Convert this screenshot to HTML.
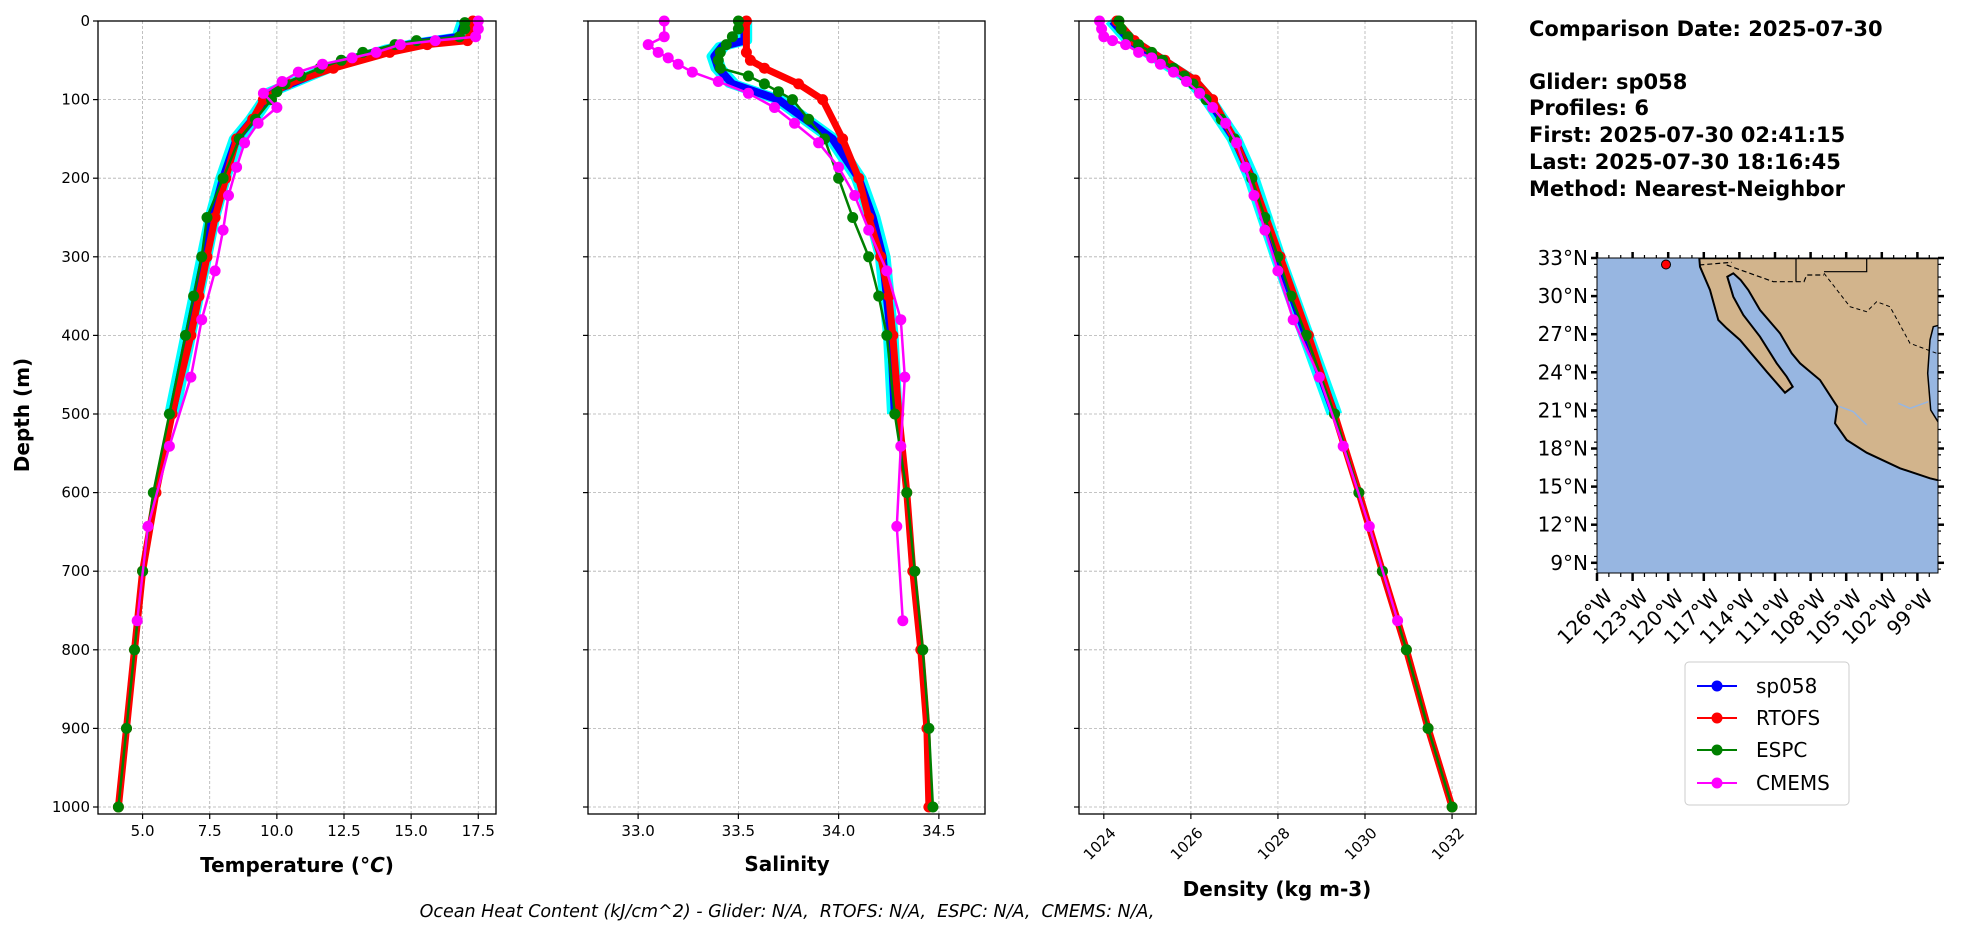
<!DOCTYPE html>
<html><head><meta charset="utf-8"><style>
html,body{margin:0;padding:0;background:#fff;}
svg{display:block;font-family:"DejaVu Sans","Liberation Sans",sans-serif;}
</style></head><body>
<svg id="s" width="1978" height="934" viewBox="0 0 1978 934" xmlns="http://www.w3.org/2000/svg"></svg>
<script>
const S=document.getElementById('s');let h='';
const Y0=21,Y1=807;
const yd=d=>Y0+(Y1-Y0)*d/1000;
const TOP=21,BOT=814;
const panels=[
 {L:98,R:496,v0:3.34,v1:18.16,ticks:[5,7.5,10,12.5,15,17.5],lab:t=>t.toFixed(1),name:'Temperature (<tspan font-style="italic">°C</tspan>)',nx:297,ny:872},
 {L:588,R:985,v0:32.75,v1:34.73,ticks:[33,33.5,34,34.5],lab:t=>t.toFixed(1),name:'Salinity',nx:787,ny:871},
 {L:1079,R:1476,v0:1023.43,v1:1032.55,ticks:[1024,1026,1028,1030,1032],lab:t=>String(t),name:'Density (kg m-3)',nx:1277,ny:896,rot:true}
];
function X(p,v){return p.L+(p.R-p.L)*(v-p.v0)/(p.v1-p.v0);}
function line(p,data,col,w,mk,r){
 let pts=data.map(a=>X(p,a[1]).toFixed(1)+','+yd(a[0]).toFixed(1)).join(' ');
 let s=`<polyline points="${pts}" fill="none" stroke="${col}" stroke-width="${w}" stroke-linejoin="round"/>`;
 if(mk)data.forEach(a=>{s+=`<circle cx="${X(p,a[1]).toFixed(1)}" cy="${yd(a[0]).toFixed(1)}" r="${r}" fill="${col}"/>`;});
 return s;
}
const D={
 T:{
  g:[[0,17],[20,16.8],[28,15.2],[35,14.2],[45,13.2],[60,11.9],[80,10.5],[90,9.8],[100,9.6],[125,9.1],[150,8.5],[200,8.0],[250,7.6],[300,7.3],[350,7.0],[400,6.7],[450,6.4],[500,6.1]],
  r:[[0,17.3],[25,17.1],[30,15.6],[40,14.2],[60,12.1],[80,10.4],[100,9.5],[125,9.1],[150,8.5],[200,8.1],[250,7.7],[300,7.4],[350,7.1],[400,6.8],[500,6.1],[600,5.5],[700,5.0],[800,4.7],[900,4.4],[1000,4.1]],
  e:[[2,17],[10,17],[20,16.8],[25,15.2],[30,14.4],[40,13.2],[50,12.4],[60,11.6],[70,10.9],[80,10.3],[90,10.0],[100,9.8],[125,9.2],[150,8.6],[200,8.0],[250,7.4],[300,7.2],[350,6.9],[400,6.6],[500,6.0],[600,5.4],[700,5.0],[800,4.7],[900,4.4],[1000,4.1]],
  c:[[0,17.5],[10,17.5],[20,17.4],[25,15.9],[30,14.6],[40,13.7],[47,12.8],[55,11.7],[65,10.8],[77,10.2],[92,9.5],[110,10.0],[130,9.3],[155,8.8],[186,8.5],[222,8.2],[266,8.0],[318,7.7],[380,7.2],[453,6.8],[541,6.0],[643,5.2],[763,4.8]]
 },
 S:{
  g:[[0,33.53],[25,33.53],[32,33.42],[45,33.38],[60,33.4],[80,33.47],[100,33.7],[150,33.97],[200,34.1],[250,34.17],[300,34.22],[400,34.26],[500,34.28]],
  r:[[0,33.54],[40,33.54],[50,33.56],[60,33.63],[80,33.8],[100,33.92],[150,34.02],[200,34.1],[250,34.15],[300,34.21],[350,34.25],[400,34.27],[500,34.3],[600,34.34],[700,34.37],[800,34.41],[900,34.44],[1000,34.45]],
  e:[[0,33.5],[10,33.5],[20,33.47],[30,33.44],[40,33.41],[50,33.4],[60,33.41],[70,33.55],[80,33.63],[90,33.7],[100,33.77],[125,33.85],[150,33.93],[200,34.0],[250,34.07],[300,34.15],[350,34.2],[400,34.24],[500,34.28],[600,34.34],[700,34.38],[800,34.42],[900,34.45],[1000,34.47]],
  c:[[0,33.13],[20,33.13],[30,33.05],[40,33.1],[47,33.15],[55,33.2],[65,33.27],[77,33.4],[92,33.55],[110,33.68],[130,33.78],[155,33.9],[186,34.0],[222,34.08],[266,34.15],[318,34.24],[380,34.31],[453,34.33],[541,34.31],[643,34.29],[763,34.32]]
 },
 R:{
  g:[[0,1024.2],[25,1024.6],[50,1025.3],[75,1026.0],[100,1026.4],[150,1027.0],[200,1027.4],[300,1028.0],[400,1028.65],[500,1029.3]],
  r:[[0,1024.3],[25,1024.7],[50,1025.4],[75,1026.1],[100,1026.5],[150,1027.0],[200,1027.4],[300,1028.05],[400,1028.7],[500,1029.3],[600,1029.86],[700,1030.4],[800,1030.95],[900,1031.45],[1000,1032]],
  e:[[0,1024.35],[10,1024.4],[20,1024.55],[30,1024.8],[40,1025.1],[50,1025.35],[60,1025.6],[70,1025.85],[80,1026.05],[90,1026.2],[100,1026.35],[125,1026.7],[150,1027.0],[200,1027.4],[250,1027.7],[300,1028.0],[350,1028.3],[400,1028.65],[500,1029.3],[600,1029.86],[700,1030.4],[800,1030.95],[900,1031.45],[1000,1032]],
  c:[[0,1023.9],[10,1023.95],[20,1024.0],[25,1024.2],[30,1024.5],[40,1024.8],[47,1025.1],[55,1025.3],[65,1025.6],[77,1025.9],[92,1026.2],[110,1026.5],[130,1026.8],[155,1027.05],[186,1027.25],[222,1027.45],[266,1027.7],[318,1028.0],[380,1028.35],[453,1028.95],[541,1029.5],[643,1030.1],[763,1030.75]]
 }
};
const keys=['T','S','R'];
panels.forEach((p,i)=>{
 for(let d=0;d<=1000;d+=100)h+=`<line x1="${p.L}" x2="${p.R}" y1="${yd(d)}" y2="${yd(d)}" stroke="#b0b0b0" stroke-width="0.8" stroke-dasharray="3,2"/>`;
 p.ticks.forEach(t=>{let x=X(p,t);h+=`<line x1="${x}" x2="${x}" y1="${TOP}" y2="${BOT}" stroke="#b0b0b0" stroke-width="0.8" stroke-dasharray="3,2"/>`;});
 const d=D[keys[i]];
 [-0.8,0,0.8].forEach(o=>{const sc=p.v1-p.v0;h+=line(p,d.g.map(a=>[a[0],a[1]+o*sc*0.012]),'#00ffff',8,false,0);});
 h+=line(p,d.g,'#0000ff',8,false,0);
 h+=line(p,d.r,'#ff0000',7,true,5.5);
 h+=line(p,d.e,'#008000',2.5,true,5.5);
 h+=line(p,d.c,'#ff00ff',2.5,true,5.5);
 h+=`<rect x="${p.L}" y="${TOP}" width="${p.R-p.L}" height="${BOT-TOP}" fill="none" stroke="#000" stroke-width="1.3"/>`;
 for(let dd=0;dd<=1000;dd+=100){h+=`<line x1="${p.L-5}" x2="${p.L}" y1="${yd(dd)}" y2="${yd(dd)}" stroke="#000" stroke-width="1.2"/>`;
  if(i==0)h+=`<text x="${p.L-8}" y="${yd(dd)+5}" font-size="15" text-anchor="end">${dd}</text>`;}
 p.ticks.forEach(t=>{let x=X(p,t);h+=`<line x1="${x}" x2="${x}" y1="${BOT}" y2="${BOT+5}" stroke="#000" stroke-width="1.2"/>`;
  if(p.rot)h+=`<text transform="translate(${x+5},${BOT+12}) rotate(-45)" font-size="15" text-anchor="end" dominant-baseline="hanging">${p.lab(t)}</text>`;
  else h+=`<text x="${x}" y="${BOT+22}" font-size="15" text-anchor="middle">${p.lab(t)}</text>`;});
 h+=`<text x="${p.nx}" y="${p.ny}" font-size="20" font-weight="bold" text-anchor="middle">${p.name}</text>`;
});
h+=`<text transform="translate(29,415) rotate(-90)" font-size="20" font-weight="bold" text-anchor="middle">Depth (m)</text>`;
h+=`<text x="787" y="917" font-size="17.5" font-style="italic" text-anchor="middle" xml:space="preserve">Ocean Heat Content (kJ/cm^2) - Glider: N/A,  RTOFS: N/A,  ESPC: N/A,  CMEMS: N/A,</text>`;
const info=[['Comparison Date: 2025-07-30',36],['Glider: sp058',89],['Profiles: 6',115],['First: 2025-07-30 02:41:15',142],['Last: 2025-07-30 18:16:45',169],['Method: Nearest-Neighbor',196]];
info.forEach(a=>h+=`<text x="1529" y="${a[1]}" font-size="21" font-weight="bold">${a[0]}</text>`);
const mL=1597,mR=1938,mT=258,mB=573;
const lx=lon=>mL+(lon+126)*35.6/3, ly=lat=>mT+(33-lat)*38.1/3;
h+=`<defs><clipPath id="mc"><rect x="${mL}" y="${mT}" width="${mR-mL}" height="${mB-mT}"/></clipPath></defs>`;
h+=`<rect x="${mL}" y="${mT}" width="${mR-mL}" height="${mB-mT}" fill="#97b6e1"/>`;
const z=a=>a.map(q=>(q[0]/3+1500).toFixed(1)+','+(q[1]/3+230).toFixed(1)).join(' ');
const land=[[598,85],[1320,85],[1320,752],[1290,745],[1200,715],[1100,668],[1040,630],[1005,580],[1012,530],[960,450],[900,400],[875,370],[840,310],[780,240],[745,180],[722,150],[700,130],[682,140],[700,200],[730,255],[780,320],[830,400],[860,440],[878,470],[855,488],[800,425],[720,330],[680,295],[655,270],[630,180],[600,110]];
h+=`<g clip-path="url(#mc)"><polygon points="${z(land)}" fill="#d2b48c" stroke="#000" stroke-width="2"/>`;
h+=`<polygon points="${z([[1300,290],[1320,285],[1320,585],[1292,540],[1283,430],[1290,330]])}" fill="#97b6e1" stroke="#000" stroke-width="1.5"/>`;
h+=`<polyline points="${z([[598,105],[695,97]])}" fill="none" stroke="#000" stroke-width="1.2" stroke-dasharray="5,3"/>`;
h+=`<polyline points="${z([[680,105],[820,155],[912,155],[920,135],[972,135]])}" fill="none" stroke="#000" stroke-width="1.2" stroke-dasharray="5,3"/>`;
h+=`<polyline points="${z([[888,85],[888,155]])}" fill="none" stroke="#000" stroke-width="1.2"/>`;
h+=`<polyline points="${z([[972,125],[1100,125],[1100,85]])}" fill="none" stroke="#000" stroke-width="1.2"/>`;
h+=`<polyline points="${z([[972,130],[1050,230],[1100,245],[1130,215],[1170,230],[1230,340],[1310,370]])}" fill="none" stroke="#000" stroke-width="1" stroke-dasharray="4,3"/>`;
h+=`<polyline points="${z([[1020,530],[1060,545],[1100,585]])}" fill="none" stroke="#97b6e1" stroke-width="1.5"/>`;
h+=`<polyline points="${z([[1195,520],[1230,535],[1285,515]])}" fill="none" stroke="#97b6e1" stroke-width="1.5"/>`;
h+=`</g>`;
h+=`<rect x="${mL}" y="${mT}" width="${mR-mL}" height="${mB-mT}" fill="none" stroke="#000" stroke-width="1"/>`;
h+=`<circle cx="1666" cy="264.5" r="4.5" fill="#f00" stroke="#000" stroke-width="1"/>`;
for(let lat=9;lat<=33;lat+=3){let y=ly(lat);
 h+=`<line x1="${mL-6}" x2="${mL}" y1="${y}" y2="${y}" stroke="#000" stroke-width="2.5"/><line x1="${mR}" x2="${mR+6}" y1="${y}" y2="${y}" stroke="#000" stroke-width="2.5"/>`;
 h+=`<text x="${mL-9}" y="${y+7}" font-size="20" text-anchor="end">${lat}°N</text>`;}
for(let lat=8.5;lat<=33;lat+=1){let y=ly(lat);if(y>mB)continue;
 h+=`<line x1="${mL-3}" x2="${mL}" y1="${y}" y2="${y}" stroke="#000" stroke-width="1.2"/><line x1="${mR}" x2="${mR+3}" y1="${y}" y2="${y}" stroke="#000" stroke-width="1.2"/>`;}
for(let lon=-126;lon<=-99;lon+=3){let x=lx(lon);
 h+=`<line x1="${x}" x2="${x}" y1="${mB}" y2="${mB+8}" stroke="#000" stroke-width="2.5"/><line x1="${x}" x2="${x}" y1="${mT-6}" y2="${mT}" stroke="#000" stroke-width="2.5"/>`;
 h+=`<text transform="translate(${x+6},${mB+14}) rotate(-45)" font-size="20" text-anchor="end" dominant-baseline="hanging">${-lon}°W</text>`;}
for(let lon=-126;lon<=-97.5;lon+=1){let x=lx(lon);
 h+=`<line x1="${x}" x2="${x}" y1="${mB}" y2="${mB+4}" stroke="#000" stroke-width="1.2"/><line x1="${x}" x2="${x}" y1="${mT-3}" y2="${mT}" stroke="#000" stroke-width="1.2"/>`;}
h+=`<rect x="1685" y="662" width="164" height="143" rx="4" fill="#fff" stroke="#ccc" stroke-width="1"/>`;
[['sp058','#0000ff',686],['RTOFS','#ff0000',718],['ESPC','#008000',750],['CMEMS','#ff00ff',783]].forEach(a=>{
 h+=`<line x1="1697" x2="1737" y1="${a[2]}" y2="${a[2]}" stroke="${a[1]}" stroke-width="2"/><circle cx="1717" cy="${a[2]}" r="5.5" fill="${a[1]}"/>`;
 h+=`<text x="1756" y="${a[2]+7}" font-size="20">${a[0]}</text>`;});
S.innerHTML=h;
</script>
</body></html>
